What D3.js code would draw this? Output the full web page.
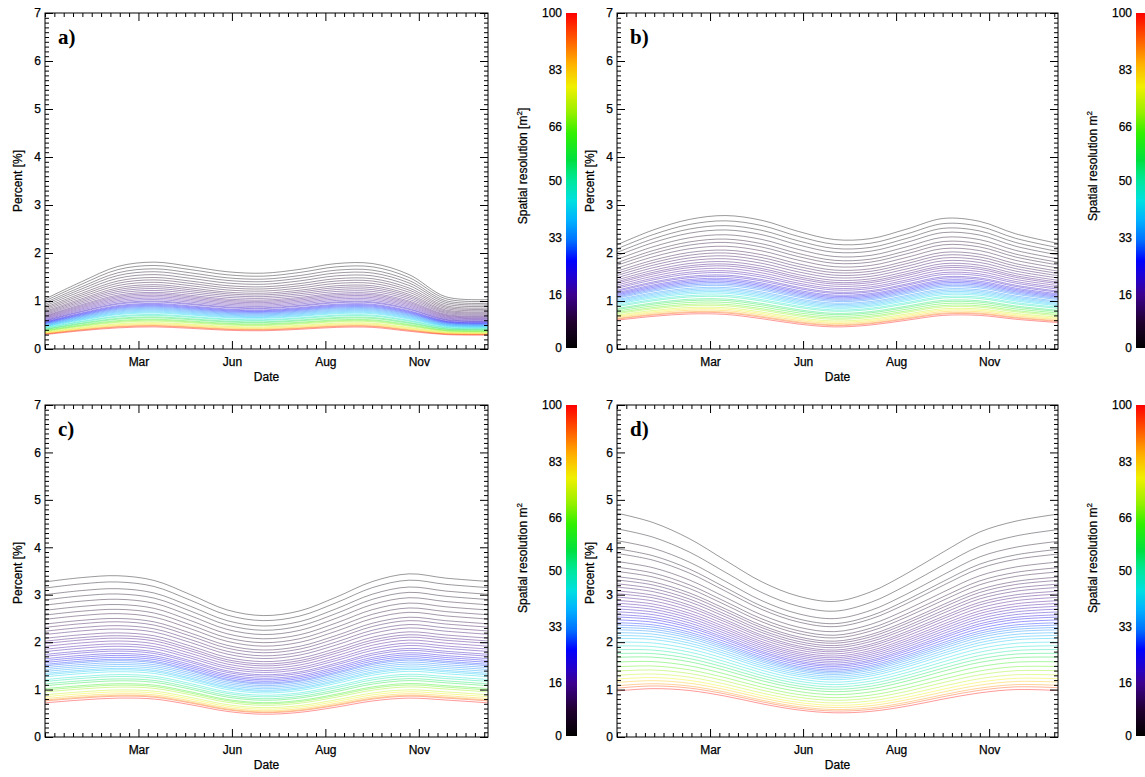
<!DOCTYPE html>
<meta charset="utf-8">
<style>
  body { margin: 0; background: #fff; }
  text { font-family: "Liberation Sans", Arial, sans-serif; fill: #000; stroke: #000; stroke-width: 0.25px; }
  .tick text { font-size: 12px; }
  .lbl { font-family: "Liberation Serif", "Times New Roman", serif; font-weight: bold; font-size: 21px; stroke-width: 0; }
</style>
<svg width="1145" height="777"></svg>
<script src="https://d3js.org/d3.v7.min.js"></script>
<script>
// ---- data ----
var sampleDays = [0, 30, 60, 90, 120, 150, 180, 210, 240, 270, 300, 330, 365];
var monthTicks = [77, 154, 231, 308];
var monthLabels = ["Mar", "Jun", "Aug", "Nov"];
var percentTicks = [0, 1, 2, 3, 4, 5, 6, 7];
var cbarTicks = [0, 16, 33, 50, 66, 83, 100];

// spatial resolution of each line (colour value), top line first
var resolutions = [1, 2, 3, 4, 5, 6, 7, 8, 9, 10, 11, 12, 13, 14, 15, 16, 17, 18, 19, 20,
  22, 24, 26, 28, 30, 32, 34, 36, 38, 40, 43, 46, 50, 54, 58, 62, 66, 70, 74, 78, 83, 88, 94, 100];

// envelope curves (top = coarsest, bottom = finest line) at sampleDays
var aTop    = [1.04, 1.40, 1.72, 1.81, 1.72, 1.61, 1.58, 1.66, 1.78, 1.78, 1.55, 1.09, 1.03];
var aBottom = [0.30, 0.38, 0.44, 0.46, 0.43, 0.39, 0.38, 0.41, 0.45, 0.45, 0.37, 0.30, 0.29];
var bTop    = [2.17, 2.48, 2.70, 2.78, 2.68, 2.45, 2.28, 2.30, 2.50, 2.72, 2.66, 2.40, 2.20];
var bBottom = [0.60, 0.68, 0.73, 0.72, 0.63, 0.52, 0.46, 0.50, 0.60, 0.70, 0.70, 0.62, 0.55];
var cTop    = [3.27, 3.36, 3.40, 3.30, 3.00, 2.68, 2.56, 2.66, 2.95, 3.28, 3.44, 3.35, 3.28];
var cBottom = [0.72, 0.78, 0.82, 0.80, 0.68, 0.54, 0.48, 0.52, 0.63, 0.76, 0.82, 0.78, 0.72];
var dTop    = [4.72, 4.52, 4.18, 3.72, 3.27, 2.97, 2.86, 3.06, 3.45, 3.90, 4.32, 4.55, 4.70];
var dBottom = [0.97, 1.02, 0.98, 0.86, 0.70, 0.57, 0.51, 0.54, 0.65, 0.80, 0.93, 1.00, 0.98];

// value of every line at a reference day (index into sampleDays)
var aLevels = [1.81, 1.74, 1.67, 1.61, 1.55, 1.49, 1.44, 1.39, 1.34, 1.30, 1.26, 1.22, 1.18, 1.15, 1.12,
  1.09, 1.06, 1.03, 1.00, 0.98, 0.95, 0.93, 0.91, 0.89, 0.87, 0.85, 0.83, 0.81, 0.79, 0.77, 0.75,
  0.72, 0.70, 0.67, 0.65, 0.62, 0.60, 0.58, 0.55, 0.53, 0.51, 0.49, 0.48, 0.46];
var bLevels = [2.78, 2.67, 2.57, 2.48, 2.38, 2.29, 2.22, 2.14, 2.06, 2.00, 1.94, 1.88, 1.82, 1.77, 1.73,
  1.68, 1.63, 1.59, 1.54, 1.51, 1.47, 1.44, 1.41, 1.38, 1.35, 1.32, 1.28, 1.25, 1.22, 1.19, 1.16,
  1.12, 1.09, 1.04, 1.01, 0.97, 0.93, 0.90, 0.86, 0.83, 0.80, 0.77, 0.75, 0.72];
var cLevels = [3.27, 3.14, 3.00, 2.89, 2.78, 2.67, 2.57, 2.48, 2.38, 2.31, 2.23, 2.16, 2.08, 2.02, 1.97,
  1.91, 1.85, 1.80, 1.74, 1.70, 1.65, 1.61, 1.57, 1.53, 1.50, 1.46, 1.42, 1.38, 1.34, 1.31, 1.27,
  1.21, 1.17, 1.12, 1.08, 1.02, 0.99, 0.95, 0.89, 0.85, 0.81, 0.78, 0.76, 0.72];
var dLevels = [4.72, 4.39, 4.14, 3.97, 3.87, 3.70, 3.58, 3.49, 3.38, 3.31, 3.23, 3.16, 3.08, 3.02, 2.95,
  2.88, 2.82, 2.76, 2.70, 2.64, 2.58, 2.53, 2.47, 2.41, 2.36, 2.31, 2.26, 2.20, 2.14, 2.08, 2.00,
  1.92, 1.84, 1.76, 1.68, 1.58, 1.48, 1.39, 1.30, 1.22, 1.15, 1.08, 1.03, 0.97];

// colour table (rainbow + black), as seen on the colour bars
var cmapValues = [0, 8, 16, 21, 26, 32, 38, 44, 51, 56, 64, 71, 78, 85, 93, 100];
var cmapColors = ["#000000", "#200030", "#3c0090", "#2000d0", "#0000ff", "#0070ff", "#00b0ff", "#00e0e0",
  "#00e890", "#00e040", "#30f000", "#a0f000", "#f0f000", "#ffb000", "#ff5000", "#ff0000"];

var panels = [
  {name: "a)", x0: 45,  x1: 488,  y0: 13,  y1: 349, top: aTop, bottom: aBottom, levels: aLevels, ref: 3, cbTitle: true},
  {name: "b)", x0: 617, x1: 1058, y0: 13,  y1: 349, top: bTop, bottom: bBottom, levels: bLevels, ref: 3, cbTitle: false},
  {name: "c)", x0: 45,  x1: 488,  y0: 405, y1: 737, top: cTop, bottom: cBottom, levels: cLevels, ref: 0, cbTitle: false},
  {name: "d)", x0: 617, x1: 1058, y0: 405, y1: 737, top: dTop, bottom: dBottom, levels: dLevels, ref: 0, cbTitle: false}
];

var svg = d3.select("svg");
var color = d3.scaleLinear().domain(cmapValues).range(cmapColors).interpolate(d3.interpolateRgb);

var defs = svg.append("defs");
var grad = defs.append("linearGradient").attr("id", "cmap")
    .attr("x1", 0).attr("y1", 1).attr("x2", 0).attr("y2", 0);
grad.selectAll("stop").data(d3.range(0, 101, 2)).enter().append("stop")
    .attr("offset", function(d) { return d + "%"; })
    .attr("stop-color", function(d) { return color(d); });

var xMinor = d3.range(0, 366, 7.7).filter(function(d) { return monthTicks.indexOf(Math.round(d)) < 0; });
var yMinor = d3.range(0, 7.001, 0.1).filter(function(d) { return Math.abs(d - Math.round(d)) > 0.01; });

panels.forEach(function(p, pi) {
  var x = d3.scaleLinear().domain([0, 365]).range([p.x0, p.x1]);
  var y = d3.scaleLinear().domain([0, 7]).range([p.y1, p.y0]);
  var g = svg.append("g");

  defs.append("clipPath").attr("id", "clip" + pi)
    .append("rect").attr("x", p.x0).attr("y", p.y0).attr("width", p.x1 - p.x0).attr("height", p.y1 - p.y0);

  var rt = p.top[p.ref], rb = p.bottom[p.ref];
  var lines = p.levels.map(function(lv, i) {
    var w = (lv - rb) / (rt - rb);
    return {res: resolutions[i], pts: sampleDays.map(function(dd, j) {
      return [dd, p.bottom[j] + w * (p.top[j] - p.bottom[j])];
    })};
  });

  var line = d3.line()
      .x(function(d) { return x(d[0]); })
      .y(function(d) { return y(d[1]); })
      .curve(d3.curveCatmullRom.alpha(0.5));

  g.append("g").attr("clip-path", "url(#clip" + pi + ")")
    .selectAll("path").data(lines).enter().append("path")
      .attr("d", function(d) { return line(d.pts); })
      .attr("fill", "none")
      .attr("stroke", function(d) { return color(d.res); })
      .attr("stroke-opacity", 0.4)
      .attr("stroke-width", 1);

  // axes, IDL style with inward ticks on all four sides
  function ax(axis, tx, ty, labels) {
    var a = g.append("g").attr("transform", "translate(" + tx + "," + ty + ")").call(axis);
    a.select(".domain").remove();
    a.selectAll("line").attr("stroke", "#000");
    if (!labels) a.selectAll("text").remove();
    return a;
  }
  var fmtMonth = function(d) { return monthLabels[monthTicks.indexOf(d)]; };
  ax(d3.axisBottom(x).tickValues(monthTicks).tickFormat(fmtMonth).tickSizeInner(-8).tickSizeOuter(0).tickPadding(8), 0, p.y1, true);
  ax(d3.axisBottom(x).tickValues(xMinor).tickSizeInner(-4).tickSizeOuter(0), 0, p.y1, false);
  ax(d3.axisTop(x).tickValues(monthTicks).tickSizeInner(-8).tickSizeOuter(0), 0, p.y0, false);
  ax(d3.axisTop(x).tickValues(xMinor).tickSizeInner(-4).tickSizeOuter(0), 0, p.y0, false);
  ax(d3.axisLeft(y).tickValues(percentTicks).tickFormat(d3.format("d")).tickSizeInner(-8).tickSizeOuter(0).tickPadding(4), p.x0, 0, true);
  ax(d3.axisLeft(y).tickValues(yMinor).tickSizeInner(-4).tickSizeOuter(0), p.x0, 0, false);
  ax(d3.axisRight(y).tickValues(percentTicks).tickSizeInner(-8).tickSizeOuter(0), p.x1, 0, false);
  ax(d3.axisRight(y).tickValues(yMinor).tickSizeInner(-4).tickSizeOuter(0), p.x1, 0, false);

  g.append("rect").attr("x", p.x0).attr("y", p.y0)
    .attr("width", p.x1 - p.x0).attr("height", p.y1 - p.y0)
    .attr("fill", "none").attr("stroke", "#000").attr("stroke-width", 1);

  g.append("text").attr("class", "lbl").attr("x", p.x0 + 13).attr("y", p.y0 + 31).text(p.name);

  g.append("text").attr("x", (p.x0 + p.x1) / 2).attr("y", p.y1 + 32)
    .attr("text-anchor", "middle").style("font-size", "12px").text("Date");

  g.append("text").attr("transform", "translate(" + (p.x0 - 23) + "," + (p.y0 + 168) + ") rotate(-90)")
    .attr("text-anchor", "middle").style("font-size", "12px").text("Percent [%]");

  // colour bar
  var cx = p.x1 + 78;
  var cy = d3.scaleLinear().domain([0, 100]).range([p.y1 - 1, p.y0]);
  g.append("rect").attr("x", cx).attr("y", p.y0).attr("width", 11).attr("height", p.y1 - 1 - p.y0)
    .attr("fill", "url(#cmap)");
  var cb = g.append("g").attr("transform", "translate(" + cx + ",0)")
    .call(d3.axisLeft(cy).tickValues(cbarTicks).tickSize(0).tickPadding(4));
  cb.select(".domain").remove();

  var t = g.append("text").attr("transform", "translate(" + (p.x1 + 39) + "," + (p.y0 + 153) + ") rotate(-90)")
    .attr("text-anchor", "middle").style("font-size", "12px");
  t.append("tspan").text(p.cbTitle ? "Spatial resolution [m" : "Spatial resolution m");
  t.append("tspan").attr("dy", -5).style("font-size", "8px").text("2");
  if (p.cbTitle) t.append("tspan").attr("dy", 5).text("]");
});
</script>
